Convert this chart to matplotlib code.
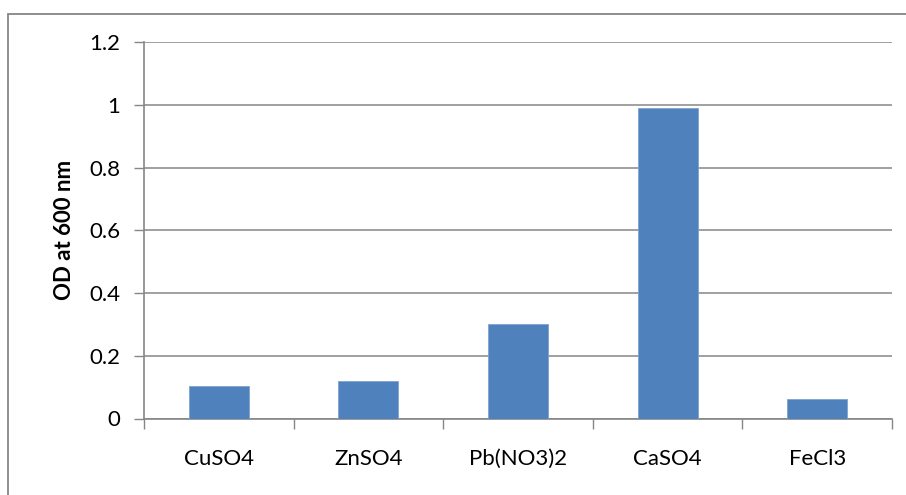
import matplotlib
matplotlib.use("Agg")
import matplotlib.pyplot as plt
from matplotlib.patches import Rectangle
import numpy as np

categories = ["CuSO4", "ZnSO4", "Pb(NO3)2", "CaSO4", "FeCl3"]
values = [0.105, 0.118, 0.30, 0.99, 0.062]
yticks = [0, 0.2, 0.4, 0.6, 0.8, 1, 1.2]
ytick_labels = ["0", "0.2", "0.4", "0.6", "0.8", "1", "1.2"]
ylabel = "OD at 600 nm"

plt.rcParams['font.family'] = ['Lato', 'DejaVu Sans']

W, H = 906, 495
fig = plt.figure(figsize=(W/100, H/100), dpi=100)
ax = fig.add_axes([144/W, 1-418.5/H, (892-144)/W, (418.5-42)/H])

gray = "#868686"
x = np.arange(len(categories))
ax.bar(x, values, width=0.4, color="#4F81BD", edgecolor="#7FA3D0", linewidth=0.6, zorder=3)

ax.set_xlim(-0.5, len(categories) - 0.5)
ax.set_ylim(0, 1.2)
ax.set_yticks(yticks)
ax.set_yticklabels(ytick_labels, fontsize=16)
ax.yaxis.grid(True, color=gray, linewidth=1.1, zorder=0)
ax.set_axisbelow(True)

ax.set_xticks(x)
ax.set_xticklabels(categories, fontsize=16)
ax.set_xticks(np.arange(-0.5, len(categories)), minor=True)
ax.tick_params(axis='x', which='major', length=0, pad=22)
ax.tick_params(axis='x', which='minor', length=7, width=1.0, color=gray, direction='out')
ax.tick_params(axis='y', length=7, width=1.0, color=gray, direction='out', pad=10)

for s in ["top", "right"]:
    ax.spines[s].set_visible(False)
for s in ["left", "bottom"]:
    ax.spines[s].set_color(gray)
    ax.spines[s].set_linewidth(1.2)

ax.set_ylabel(ylabel, fontsize=16, fontweight='bold', labelpad=10)

fig.patches.append(Rectangle((8/W, -0.1), 1.2, 1-14/H+0.1, transform=fig.transFigure,
                             fill=False, edgecolor=gray, linewidth=1.3, zorder=0))

fig.savefig("out.png", dpi=100)
